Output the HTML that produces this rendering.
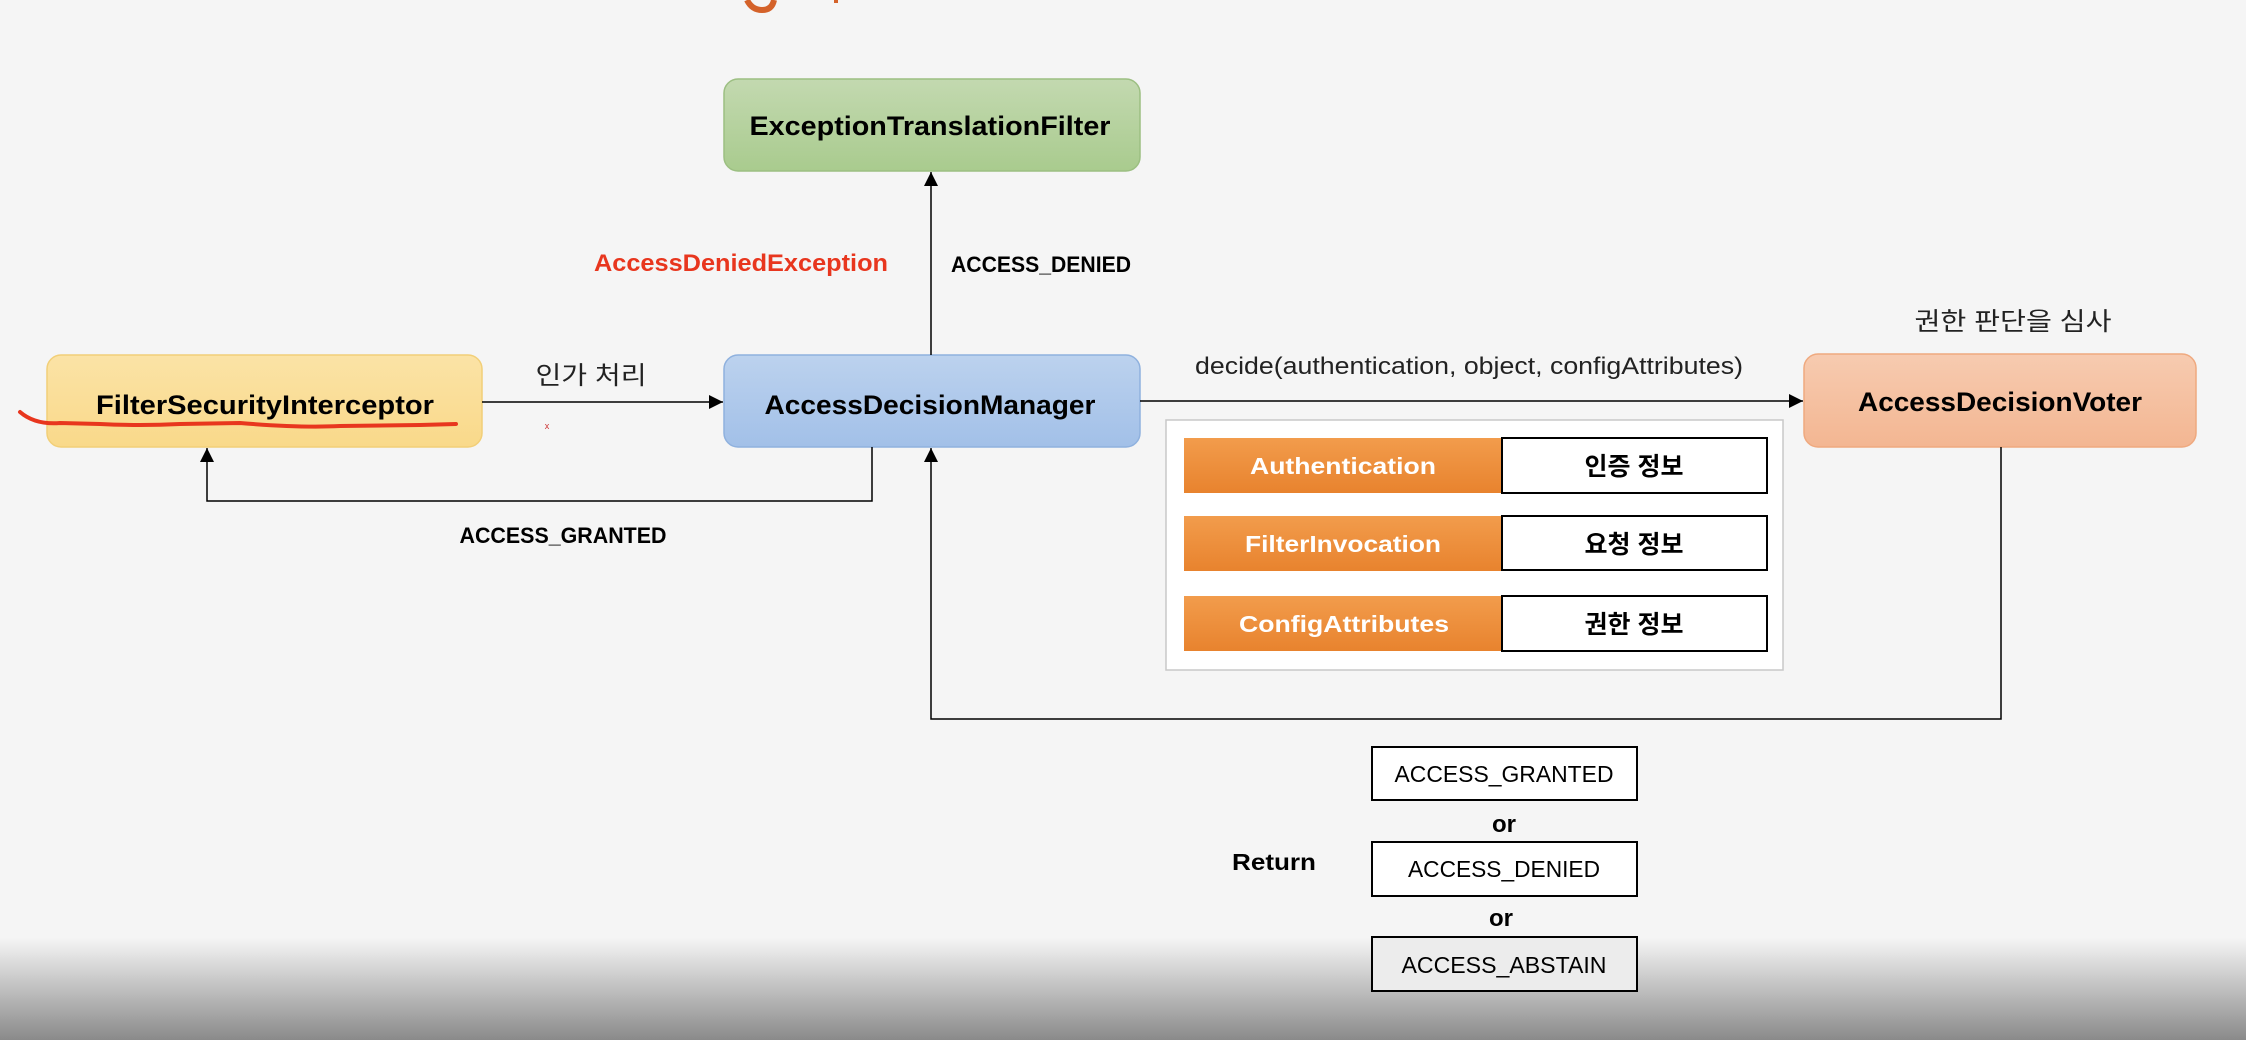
<!DOCTYPE html>
<html><head><meta charset="utf-8"><style>
html,body{margin:0;padding:0;background:#f5f5f5;}
svg{display:block;}
text{font-family:"Liberation Sans","Noto Sans CJK KR",sans-serif;}
</style></head><body>
<svg width="2246" height="1040" viewBox="0 0 2246 1040" xmlns="http://www.w3.org/2000/svg">
<defs>
<linearGradient id="bot" x1="0" y1="0" x2="0" y2="1"><stop offset="0" stop-color="#f5f5f5"/><stop offset="1" stop-color="#8a8a8a"/></linearGradient>
<linearGradient id="gG" x1="0" y1="0" x2="0" y2="1"><stop offset="0" stop-color="#c3d9b0"/><stop offset="1" stop-color="#a9cb8e"/></linearGradient>
<linearGradient id="gY" x1="0" y1="0" x2="0" y2="1"><stop offset="0" stop-color="#fbe3a6"/><stop offset="1" stop-color="#f9d98a"/></linearGradient>
<linearGradient id="gB" x1="0" y1="0" x2="0" y2="1"><stop offset="0" stop-color="#bcd2ee"/><stop offset="1" stop-color="#a2c0e8"/></linearGradient>
<linearGradient id="gO" x1="0" y1="0" x2="0" y2="1"><stop offset="0" stop-color="#f7cbb0"/><stop offset="1" stop-color="#f3b692"/></linearGradient>
<linearGradient id="gR" x1="0" y1="0" x2="0" y2="1"><stop offset="0" stop-color="#f29c4c"/><stop offset="1" stop-color="#e8832e"/></linearGradient>
<marker id="ar" viewBox="0 0 10 10" refX="10" refY="5" markerWidth="14" markerHeight="14" markerUnits="userSpaceOnUse" orient="auto"><path d="M0,0 L10,5 L0,10 z" fill="#000"/></marker>
</defs>
<rect x="0" y="938" width="2246" height="102" fill="url(#bot)"/>
<!-- top orange fragment -->
<path d="M747,0 Q752,10 762,10 Q772,10 774,0" fill="none" stroke="#d4622a" stroke-width="6"/>
<rect x="834" y="0" width="4" height="3" fill="#d4622a"/>

<!-- boxes -->
<rect x="724" y="79" width="416" height="92" rx="14" fill="url(#gG)" stroke="#9cbf82" stroke-width="1.5"/>
<text x="930" y="135" font-size="27" font-weight="bold" text-anchor="middle" textLength="361" lengthAdjust="spacingAndGlyphs">ExceptionTranslationFilter</text>

<rect x="47" y="355" width="435" height="92" rx="14" fill="url(#gY)" stroke="#f2cf78" stroke-width="1.5"/>
<text x="265" y="414" font-size="27" font-weight="bold" text-anchor="middle" textLength="338" lengthAdjust="spacingAndGlyphs">FilterSecurityInterceptor</text>
<path d="M20,412 Q35,425 60,423 L100,424 Q140,426 180,424 L240,423 Q300,428 340,426 L420,425 L456,424" fill="none" stroke="#e8361e" stroke-width="4" stroke-linecap="round"/>

<rect x="724" y="355" width="416" height="92" rx="14" fill="url(#gB)" stroke="#8fb1de" stroke-width="1.5"/>
<text x="930" y="414" font-size="27" font-weight="bold" text-anchor="middle" textLength="331" lengthAdjust="spacingAndGlyphs">AccessDecisionManager</text>

<rect x="1804" y="354" width="392" height="93" rx="14" fill="url(#gO)" stroke="#efa97f" stroke-width="1.5"/>
<text x="2000" y="411" font-size="27" font-weight="bold" text-anchor="middle" textLength="284" lengthAdjust="spacingAndGlyphs">AccessDecisionVoter</text>

<!-- connectors -->
<line x1="931" y1="355" x2="931" y2="172" stroke="#000" stroke-width="1.5" marker-end="url(#ar)"/>
<line x1="482" y1="402" x2="723" y2="402" stroke="#000" stroke-width="1.5" marker-end="url(#ar)"/>
<polyline points="872,447 872,501 207,501 207,448" fill="none" stroke="#000" stroke-width="1.5" marker-end="url(#ar)"/>
<line x1="1140" y1="401" x2="1803" y2="401" stroke="#000" stroke-width="1.5" marker-end="url(#ar)"/>
<polyline points="2001,447 2001,719 931,719 931,448" fill="none" stroke="#000" stroke-width="1.5" marker-end="url(#ar)"/>

<!-- labels -->
<text x="741" y="271" font-size="24" font-weight="bold" fill="#e8361e" text-anchor="middle" textLength="294" lengthAdjust="spacingAndGlyphs">AccessDeniedException</text>
<text x="1041" y="272" font-size="22" font-weight="bold" text-anchor="middle" textLength="180" lengthAdjust="spacingAndGlyphs">ACCESS_DENIED</text>
<text x="591" y="384" font-size="25" text-anchor="middle" fill="#222" textLength="111" lengthAdjust="spacingAndGlyphs">인가 처리</text>
<text x="547" y="429" font-size="9" fill="#c33" text-anchor="middle">x</text>
<text x="563" y="543" font-size="22" font-weight="bold" text-anchor="middle" textLength="207" lengthAdjust="spacingAndGlyphs">ACCESS_GRANTED</text>
<text x="1469" y="374" font-size="24" text-anchor="middle" fill="#222" textLength="548" lengthAdjust="spacingAndGlyphs">decide(authentication, object, configAttributes)</text>
<text x="2013" y="330" font-size="25" text-anchor="middle" fill="#222" textLength="197" lengthAdjust="spacingAndGlyphs">권한 판단을 심사</text>

<!-- panel -->
<rect x="1166" y="420" width="617" height="250" fill="#fff" stroke="#c8c8c8" stroke-width="1.5"/>
<rect x="1184" y="438" width="318" height="55" fill="url(#gR)"/>
<rect x="1502" y="438" width="265" height="55" fill="#fff" stroke="#000" stroke-width="2"/>
<text x="1343" y="474" font-size="23" font-weight="bold" fill="#fff" text-anchor="middle" textLength="186" lengthAdjust="spacingAndGlyphs">Authentication</text>
<text x="1634" y="475" font-size="25" font-weight="bold" text-anchor="middle">인증 정보</text>
<rect x="1184" y="516" width="318" height="55" fill="url(#gR)"/>
<rect x="1502" y="516" width="265" height="54" fill="#fff" stroke="#000" stroke-width="2"/>
<text x="1343" y="552" font-size="23" font-weight="bold" fill="#fff" text-anchor="middle" textLength="196" lengthAdjust="spacingAndGlyphs">FilterInvocation</text>
<text x="1634" y="553" font-size="25" font-weight="bold" text-anchor="middle">요청 정보</text>
<rect x="1184" y="596" width="318" height="55" fill="url(#gR)"/>
<rect x="1502" y="596" width="265" height="55" fill="#fff" stroke="#000" stroke-width="2"/>
<text x="1344" y="632" font-size="23" font-weight="bold" fill="#fff" text-anchor="middle" textLength="210" lengthAdjust="spacingAndGlyphs">ConfigAttributes</text>
<text x="1634" y="633" font-size="25" font-weight="bold" text-anchor="middle">권한 정보</text>

<!-- return -->
<text x="1274" y="870" font-size="23" font-weight="bold" text-anchor="middle" textLength="84" lengthAdjust="spacingAndGlyphs">Return</text>
<rect x="1372" y="747" width="265" height="53" fill="#fff" stroke="#000" stroke-width="2"/>
<text x="1504" y="782" font-size="23" text-anchor="middle" textLength="219" lengthAdjust="spacingAndGlyphs">ACCESS_GRANTED</text>
<text x="1504" y="832" font-size="24" font-weight="bold" text-anchor="middle">or</text>
<rect x="1372" y="842" width="265" height="54" fill="#fff" stroke="#000" stroke-width="2"/>
<text x="1504" y="877" font-size="23" text-anchor="middle" textLength="192" lengthAdjust="spacingAndGlyphs">ACCESS_DENIED</text>
<text x="1501" y="926" font-size="24" font-weight="bold" text-anchor="middle">or</text>
<rect x="1372" y="937" width="265" height="54" fill="#ececec" stroke="#000" stroke-width="2"/>
<text x="1504" y="973" font-size="23" text-anchor="middle" textLength="205" lengthAdjust="spacingAndGlyphs">ACCESS_ABSTAIN</text>
</svg>
</body></html>
